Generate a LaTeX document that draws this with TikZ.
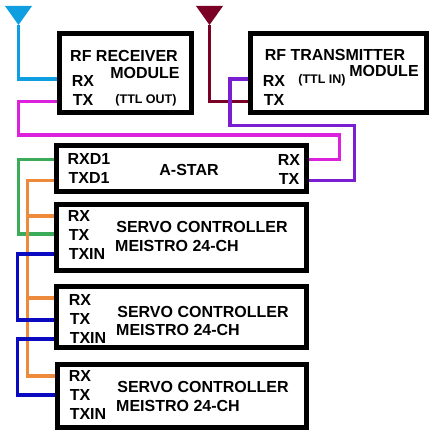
\documentclass[tikz,border=0pt]{standalone}
\usepackage{fontspec}
\usetikzlibrary{backgrounds}
\setmainfont{Liberation Sans}
\definecolor{antblue}{HTML}{0F9FE0}
\definecolor{antred}{HTML}{7A0026}
\definecolor{wiremag}{HTML}{DD22DD}
\definecolor{wirepur}{HTML}{7A1FD0}
\definecolor{wiregrn}{HTML}{3CAB5A}
\definecolor{wireorg}{HTML}{EE8A3C}
\definecolor{wireblu}{HTML}{0A0AC0}
\tikzset{
    modbox/.style={draw, line width=5.2pt, outer sep=0pt, inner sep=0pt},
    lbl/.style={font=\fontsize{16}{17}\selectfont\bfseries, inner sep=0pt},
    small/.style={font=\fontsize{12.5}{13}\selectfont\bfseries, inner sep=0pt},
    wire/.style={line width=3.2pt, line join=miter}
}
\begin{document}
\begin{tikzpicture}[x=1pt,y=-1pt]
    \useasboundingbox (0,0) rectangle (438,443);

    % modules
    \node[modbox, minimum width=132pt, minimum height=79pt] (recv) at (125.5,73) {};
    \node[modbox, minimum width=176pt, minimum height=79pt] (trans) at (338.5,73) {};
    \node[modbox, minimum width=250pt, minimum height=46pt] (astar) at (181.5,168.5) {};
    \node[modbox, minimum width=250pt, minimum height=66pt] (servoa) at (181.5,237.5) {};
    \node[modbox, minimum width=250pt, minimum height=61pt] (servob) at (181.5,317) {};
    \node[modbox, minimum width=249pt, minimum height=63pt] (servoc) at (182,396) {};

    % antennas
    \coordinate (antrx) at (18.5,25);
    \coordinate (anttx) at (209.5,25);
    \fill[antblue] (5,6) -- (32,6) -- (antrx) -- cycle;
    \fill[antred] (196,6) -- (223,6) -- (anttx) -- cycle;

    \begin{scope}[on background layer]
        \draw[wire, antblue] (antrx) |- (recv.west |- 0,79);
        \draw[wire, antred] (anttx) |- (trans.west |- 0,101.5);

        % serial lines
        \draw[wire, wiremag] (recv.west |- 0,101.5) -| (18.5,135) -| (339.5,159.5) -- (astar.east |- 0,159.5);
        \draw[wire, wirepur] (trans.west |- 0,79) -| (230,125.5) -| (354.5,180.5) -- (astar.east |- 0,180.5);
        \draw[wire, wiregrn] (astar.west |- 0,159.5) -| (18.5,234) -- (servoa.west |- 0,234);
        \draw[wire, wireorg] (astar.west |- 0,180.5) -| (27.5,376) -- (servoc.west |- 0,376);
        \draw[wire, wireorg] (27.5,216) -- (servoa.west |- 0,216);
        \draw[wire, wireorg] (27.5,298) -- (servob.west |- 0,298);
        \draw[wire, wireblu] (servoa.west |- 0,254) -| (17.5,320) -- (servob.west |- 0,320);
        \draw[wire, wireblu] (servob.west |- 0,339) -| (17.5,395) -- (servoc.west |- 0,395);
    \end{scope}

    % receiver text
    \node[lbl] (recvname) at (124,56) {RF RECEIVER};
    \node[lbl] (recvmod) at (145,73) {MODULE};
    \node[lbl] (recvrx) at (83,81) {RX};
    \node[lbl] (recvtx) at (83,100) {TX};
    \node[small] (recvttl) at (146,100.5) {(TTL OUT)};

    % transmitter text
    \node[lbl] (transname) at (335,55) {RF TRANSMITTER};
    \node[lbl] (transmod) at (384,71) {MODULE};
    \node[lbl] (transrx) at (274,81) {RX};
    \node[lbl] (transtx) at (274,100) {TX};
    \node[small] (transttl) at (322,80) {(TTL IN)};

    % a-star text
    \node[lbl] (astarrxd) at (89,159) {RXD1};
    \node[lbl] (astartxd) at (89,178) {TXD1};
    \node[lbl] (astarname) at (189,170) {A-STAR};
    \node[lbl] (astarrx) at (289,160) {RX};
    \node[lbl] (astartx) at (289,179) {TX};

    % servo text
    \foreach \id/\rx/\tx/\xin/\nm/\ms/\dx in {a/216/235/254/227/246/0, b/300/319/338/312/330/1, c/376/395/414/387/406/1} {
        \node[lbl] (rx\id) at (79+\dx,\rx) {RX};
        \node[lbl] (tx\id) at (79+\dx,\tx) {TX};
        \node[lbl] (xin\id) at (87+\dx,\xin) {TXIN};
        \node[lbl] (nm\id) at (202+\dx,\nm) {SERVO CONTROLLER};
        \node[lbl] (ms\id) at (177+\dx,\ms) {MEISTRO 24-CH};
    }
\end{tikzpicture}
\end{document}
